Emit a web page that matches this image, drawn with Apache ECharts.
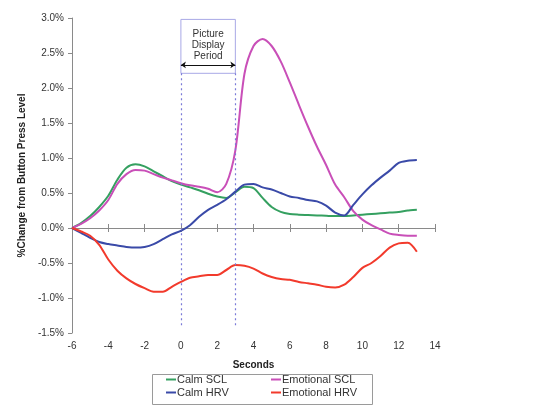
<!DOCTYPE html>
<html>
<head>
<meta charset="utf-8">
<script src="https://cdn.jsdelivr.net/npm/echarts@6/dist/echarts.min.js"></script>
<style>html,body{margin:0;padding:0;background:#fff}#c{width:540px;height:406px}</style>
</head>
<body>
<div id="c"></div>
<script>
var times = [-6,-5.5,-5,-4.5,-4,-3.5,-3,-2.5,-2,-1.5,-1,-0.5,0,0.5,1,1.5,2,2.5,3,3.5,4,4.5,5,5.5,6,6.5,7,7.5,8,8.5,9,9.5,10,10.5,11,11.5,12,12.5,13];
var calmSCL = [0,0.07,0.17,0.30,0.46,0.69,0.86,0.91,0.88,0.81,0.74,0.67,0.62,0.58,0.54,0.49,0.45,0.43,0.51,0.59,0.57,0.43,0.30,0.23,0.20,0.19,0.185,0.18,0.175,0.17,0.17,0.18,0.19,0.20,0.21,0.22,0.23,0.25,0.26];
var emoSCL = [0,0.06,0.14,0.25,0.40,0.63,0.77,0.83,0.82,0.77,0.72,0.68,0.64,0.61,0.59,0.56,0.51,0.63,1.11,2.2,2.6,2.70,2.60,2.38,2.08,1.76,1.45,1.16,0.90,0.62,0.44,0.24,0.12,0.04,-0.02,-0.08,-0.10,-0.11,-0.11];
var calmHRV = [0,-0.07,-0.14,-0.20,-0.23,-0.25,-0.27,-0.28,-0.27,-0.23,-0.16,-0.09,-0.04,0.04,0.16,0.26,0.33,0.41,0.52,0.62,0.63,0.58,0.55,0.50,0.45,0.43,0.40,0.38,0.32,0.22,0.18,0.33,0.48,0.61,0.72,0.82,0.93,0.96,0.97];
var emoHRV = [0,-0.05,-0.11,-0.24,-0.45,-0.61,-0.72,-0.80,-0.86,-0.91,-0.91,-0.84,-0.77,-0.71,-0.69,-0.67,-0.67,-0.60,-0.53,-0.54,-0.58,-0.65,-0.70,-0.73,-0.74,-0.77,-0.79,-0.81,-0.84,-0.85,-0.81,-0.70,-0.57,-0.50,-0.40,-0.28,-0.22,-0.21,-0.34];
var yTicks = [-1.5,-1.0,-0.5,0.0,0.5,1.0,1.5,2.0,2.5,3.0];
var xTicks = [-6,-4,-2,0,2,4,6,8,10,12,14];
var seriesNames = ['Calm SCL','Emotional SCL','Calm HRV','Emotional HRV'];
var seriesColors = ['#35a060','#c94fb8','#3a4aa8','#f23a2c'];
var periodStart = 0, periodEnd = 3;
var boxTop = 2.98, boxBottom = 2.21, arrowLevel = 2.33, dashBottom = -1.42;

function pairs(v){ return times.map(function(t,i){ return [t, v[i]]; }); }
var allValues = [calmSCL, emoSCL, calmHRV, emoHRV];

var chart = echarts.init(document.getElementById('c'), null, {renderer:'canvas'});
var font = 'Liberation Sans, Arial, sans-serif';
var xMin = xTicks[0], xMax = xTicks[xTicks.length-1], xInt = xTicks[1]-xTicks[0];
var yMin = yTicks[0], yMax = yTicks[yTicks.length-1], yInt = yTicks[1]-yTicks[0];

var series = seriesNames.map(function(n,i){
  return {
    name:n, type:'line', xAxisIndex:0, yAxisIndex:0,
    data:pairs(allValues[i]), smooth:0.3, showSymbol:false, symbol:'none',
    lineStyle:{width:2, color:seriesColors[i]}, itemStyle:{color:seriesColors[i]},
    z:3
  };
});
series.push({
  name:'period', type:'line', data:[], xAxisIndex:0, yAxisIndex:0, silent:true,
  markArea:{
    silent:true,
    itemStyle:{color:'rgba(255,255,255,0)', borderColor:'#a8a8e6', borderWidth:1},
    label:{show:true, position:'insideTop', distance:10, color:'#333', fontSize:10, fontFamily:font, lineHeight:11, align:'center'},
    data:[[{coord:[periodStart, boxTop], name:'Picture\nDisplay\nPeriod'},{coord:[periodEnd, boxBottom]}]]
  },
  markLine:{
    silent:true, animation:false,
    data:[
      [{coord:[periodStart, arrowLevel], symbol:'arrow', symbolSize:[5,5], lineStyle:{color:'#111', width:1, type:'solid'}},
       {coord:[periodEnd, arrowLevel], symbol:'arrow', symbolSize:[5,5]}],
      [{coord:[periodStart, boxBottom], symbol:'none', lineStyle:{color:'#7a7ad8', width:1.2, type:[2,3]}},
       {coord:[periodStart, dashBottom], symbol:'none'}],
      [{coord:[periodEnd, boxBottom], symbol:'none', lineStyle:{color:'#7a7ad8', width:1.2, type:[2,3]}},
       {coord:[periodEnd, dashBottom], symbol:'none'}]
    ],
    label:{show:false}
  }
});

var baseX = {type:'value', min:xMin, max:xMax, interval:xInt, splitLine:{show:false}};
var baseY = {type:'value', min:yMin, max:yMax, interval:yInt, splitLine:{show:false}};
chart.setOption({
  animation:false,
  backgroundColor:'#fff',
  grid:{left:72, right:105, top:18, bottom:73, containLabel:false},
  xAxis:[
    Object.assign({}, baseX, {position:'bottom', axisLine:{show:true, onZero:true, onZeroAxisIndex:0, lineStyle:{color:'#8a8a8a', width:1}},
      axisTick:{show:true, length:4, inside:false, lineStyle:{color:'#8a8a8a'}}, axisLabel:{show:false}}),
    Object.assign({}, baseX, {position:'top', axisLine:{show:true, onZero:true, onZeroAxisIndex:1, lineStyle:{color:'#8a8a8a', width:1}},
      axisTick:{show:true, length:4, inside:false, lineStyle:{color:'#8a8a8a'}}, axisLabel:{show:false}}),
    Object.assign({}, baseX, {position:'bottom', axisLine:{show:false, onZero:false}, axisTick:{show:false},
      axisLabel:{show:true, margin:8, color:'#333', fontSize:10, fontFamily:font},
      name:'Seconds', nameLocation:'middle', nameGap:27,
      nameTextStyle:{fontWeight:'bold', fontSize:10, color:'#222', fontFamily:font}})
  ],
  yAxis:[
    Object.assign({}, baseY, {position:'left',
      axisLine:{show:true, onZero:false, lineStyle:{color:'#8a8a8a', width:1}},
      axisTick:{show:true, length:4, inside:false, lineStyle:{color:'#8a8a8a'}},
      axisLabel:{margin:8, color:'#333', fontSize:10, fontFamily:font, formatter:function(v){return v.toFixed(1)+'%';}},
      name:'%Change from Button Press Level', nameLocation:'middle', nameGap:38,
      nameTextStyle:{fontWeight:'bold', fontSize:10, color:'#222', fontFamily:font}}),
    Object.assign({}, baseY, {position:'left', axisLine:{show:false, onZero:false}, axisTick:{show:false}, axisLabel:{show:false}})
  ],
  legend:[
    {data:['Calm SCL','Calm HRV'], orient:'vertical', left:166, top:374, height:30, padding:0, itemGap:2, itemWidth:10, itemHeight:2, icon:'rect',
     textStyle:{fontSize:11, color:'#333', fontFamily:font, padding:[0,0,0,-4]}, selectedMode:false},
    {data:['Emotional SCL','Emotional HRV'], orient:'vertical', left:271, top:374, height:30, padding:0, itemGap:2, itemWidth:10, itemHeight:2, icon:'rect',
     textStyle:{fontSize:11, color:'#333', fontFamily:font, padding:[0,0,0,-4]}, selectedMode:false}
  ],
  graphic:[{type:'rect', left:150, top:372, shape:{width:220, height:30}, style:{fill:'none', stroke:'#9a9a9a', lineWidth:1}, silent:true}],
  series:series
});
</script>
</body>
</html>
